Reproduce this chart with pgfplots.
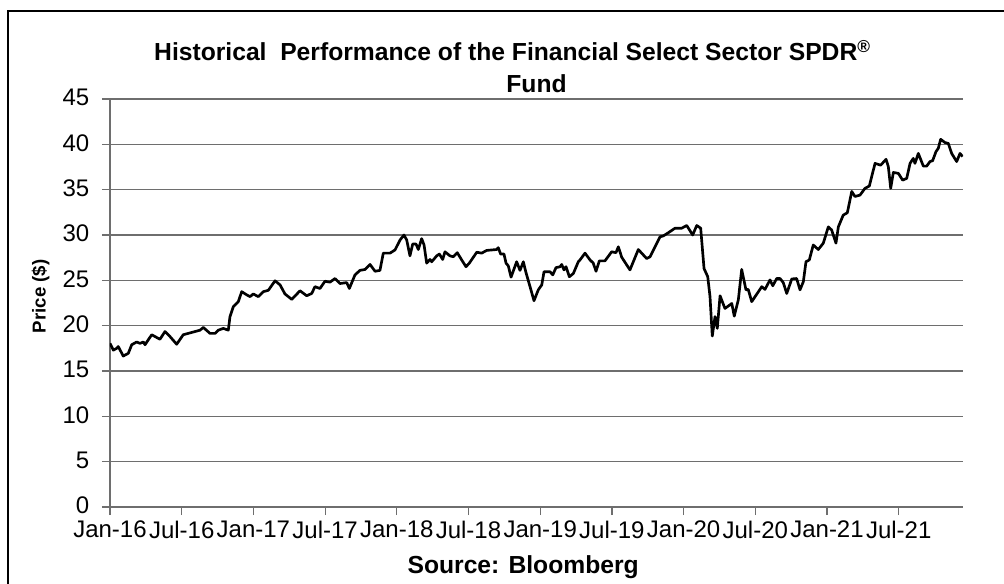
\documentclass[border=0pt]{standalone}
\usepackage{fontspec}
\setmainfont{Liberation Sans}
\usepackage{pgfplots}
\pgfplotsset{compat=1.18}
\definecolor{gridgray}{HTML}{6E6E6E}
\begin{document}
\begin{tikzpicture}[x=1pt,y=1pt]
\useasboundingbox (0,0) rectangle (753,437.25);
\draw[line width=0.9pt] (6,-5) -- (6,429) -- (760,429);
\begin{axis}[
  at={(82.5pt,57pt)}, anchor=south west,
  scale only axis, width=639.75pt, height=306pt,
  xmin=0, xmax=71.38, ymin=0, ymax=45,
  axis x line=bottom, axis y line=left,
  axis line style={-, draw=gridgray, line width=0.9pt},
  xtick={0,6,...,66},
  xticklabels={Jan-16,Jul-16,Jan-17,Jul-17,Jan-18,Jul-18,Jan-19,Jul-19,Jan-20,Jul-20,Jan-21,Jul-21},
  ytick={0,5,...,45},
  ymajorgrids, grid style={gridgray, line width=0.9pt},
  tick align=outside, major tick length=6pt,
  tick style={gridgray, line width=0.9pt},
  ticklabel style={font=\fontsize{18}{20}\selectfont},
  yticklabel style={xshift=-6pt, yshift=1pt},
  xticklabel style={yshift=-1pt},
  /pgf/number format/assume math mode=true,
  title={Historical\ \ Performance of the Financial Select Sector SPDR\textsuperscript{®}\hspace*{36pt}\\Fund},
  title style={font=\bfseries\fontsize{18.5}{24}\selectfont, align=center, at={(0.5,1)}, anchor=south, yshift=-5pt},
  ylabel={Price (\$)}, ylabel style={font=\bfseries\fontsize{14}{16}\selectfont, xshift=5pt, yshift=3pt},
  xlabel={Source: Bloomberg}, xlabel style={font=\bfseries\fontsize{18.5}{21}\selectfont, xshift=-10pt, yshift=-6pt},
]
\addplot[black, line width=2pt, line join=round] table {
x y
0 18.05
0.28 17.3
0.56 17.5
0.69 17.7
1.11 16.65
1.53 16.95
1.82 17.9
2.23 18.2
2.51 18.05
2.79 18.2
2.93 17.9
3.49 19.0
4.18 18.5
4.60 19.35
5.02 18.8
5.58 17.95
6.13 19.0
6.69 19.2
7.11 19.35
7.53 19.5
7.81 19.8
8.37 19.15
8.79 19.15
9.06 19.5
9.48 19.7
9.90 19.5
10.04 21.0
10.32 22.1
10.74 22.65
11.02 23.75
11.44 23.4
11.72 23.2
11.99 23.5
12.41 23.2
12.83 23.75
13.25 23.9
13.81 24.95
14.23 24.5
14.64 23.5
15.21 22.9
15.90 23.85
16.46 23.3
16.88 23.55
17.15 24.3
17.57 24.1
17.99 24.9
18.41 24.8
18.83 25.2
19.25 24.65
19.81 24.75
20.03 24.1
20.50 25.6
20.92 26.1
21.34 26.2
21.76 26.75
22.18 26.0
22.59 26.1
22.87 28.0
23.43 28.0
23.85 28.35
24.27 29.45
24.60 30.0
24.83 29.45
25.10 27.7
25.33 29.0
25.61 29.0
25.80 28.4
26.08 29.6
26.28 28.9
26.50 26.9
26.78 27.3
26.92 27.05
27.34 27.7
27.56 27.9
27.84 27.3
28.03 28.15
28.45 27.7
28.73 27.6
29.06 28.05
29.43 27.25
29.79 26.5
30.07 26.9
30.69 28.1
31.10 28.0
31.52 28.3
32.36 28.4
32.49 28.6
32.69 27.9
32.97 27.9
33.14 26.9
33.33 26.6
33.56 25.35
34.03 27.05
34.31 26.1
34.59 27.05
34.79 25.95
35.15 24.3
35.48 22.75
35.84 23.95
36.13 24.5
36.32 25.95
36.82 25.95
37.05 25.6
37.32 26.4
37.66 26.5
37.80 26.75
37.99 26.15
38.16 26.5
38.44 25.4
38.77 25.75
39.19 27.05
39.33 27.25
39.75 28.0
40.17 27.25
40.44 26.9
40.67 26.0
40.95 27.15
41.42 27.15
41.98 28.15
42.34 28.05
42.54 28.7
42.82 27.55
43.51 26.15
44.21 28.4
44.91 27.4
45.19 27.6
46.03 29.8
46.30 29.9
46.72 30.25
47.28 30.75
47.84 30.75
48.26 31.05
48.76 30.0
49.10 31.05
49.43 30.75
49.71 26.3
50.02 25.4
50.21 23.2
50.40 18.85
50.63 21.0
50.82 19.7
51.05 23.3
51.46 21.9
51.88 22.3
52.03 22.45
52.24 21.05
52.58 22.85
52.86 26.2
53.22 23.95
53.41 24.0
53.70 22.65
54.54 24.3
54.81 24.0
55.23 25.05
55.46 24.4
55.79 25.2
56.07 25.2
56.34 24.75
56.63 23.55
57.05 25.15
57.46 25.2
57.74 23.95
58.02 24.85
58.24 27.05
58.52 27.25
58.85 28.9
59.27 28.4
59.69 29.1
60.11 30.9
60.39 30.55
60.75 29.1
60.95 30.9
61.36 32.2
61.70 32.45
62.07 34.8
62.34 34.25
62.76 34.4
63.18 35.15
63.54 35.4
64.02 37.9
64.49 37.7
64.94 38.35
65.13 37.55
65.33 35.15
65.55 36.9
65.97 36.8
66.33 36.05
66.67 36.25
66.95 37.9
67.22 38.45
67.36 37.9
67.64 39.0
68.06 37.6
68.34 37.6
68.62 38.1
68.84 38.2
69.12 39.2
69.31 39.55
69.51 40.55
69.87 40.2
70.15 40.1
70.43 39.0
70.85 38.1
71.13 39.0
71.35 38.65
};
\end{axis}
\end{tikzpicture}
\end{document}
